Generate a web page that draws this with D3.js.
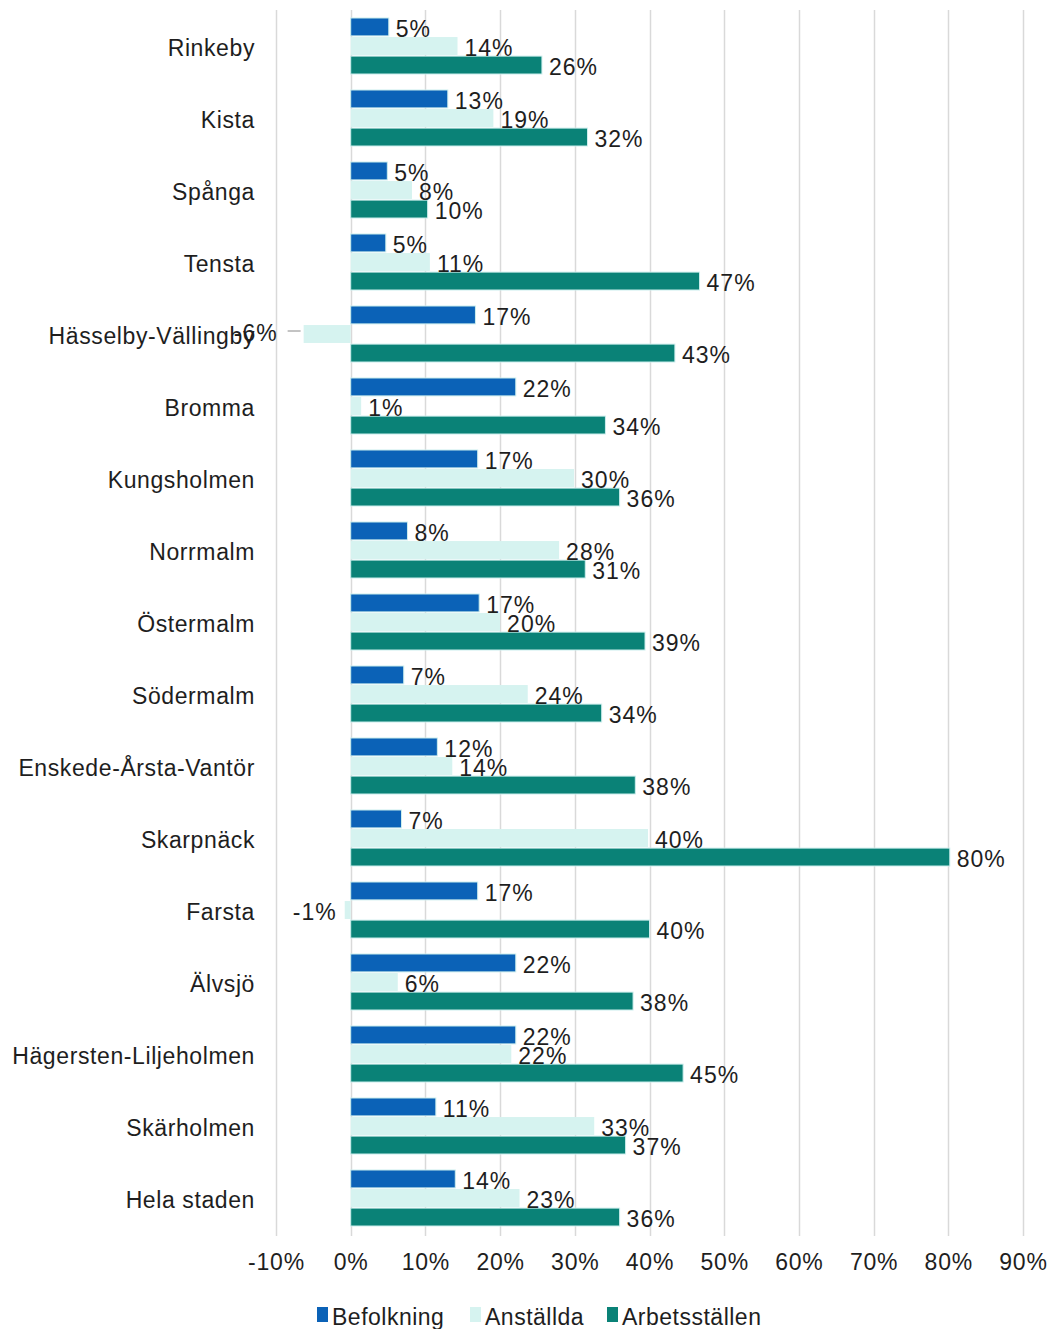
<!DOCTYPE html>
<html><head><meta charset="utf-8">
<script src="https://cdn.jsdelivr.net/npm/d3@7"></script>
<style>
html,body{margin:0;padding:0;background:#fff;}
svg{display:block;font-family:"Liberation Sans",Arial,sans-serif;}
</style></head>
<body><svg id="c" width="1050" height="1329"></svg>
<script>
const categories = ["Rinkeby","Kista","Spånga","Tensta","Hässelby-Vällingby","Bromma","Kungsholmen","Norrmalm","Östermalm","Södermalm","Enskede-Årsta-Vantör","Skarpnäck","Farsta","Älvsjö","Hägersten-Liljeholmen","Skärholmen","Hela staden"];
const seriesNames = ["Befolkning","Anställda","Arbetsställen"];
const befolkning = [5.1,13.0,4.9,4.7,16.7,22.1,17.0,7.6,17.2,7.1,11.6,6.8,17.0,22.1,22.1,11.4,14.0];
const anstallda = [14.3,19.1,8.2,10.6,-6.3,1.4,29.9,27.9,20.0,23.7,13.6,39.8,-0.8,6.3,21.5,32.6,22.6];
const arbetsstallen = [25.6,31.7,10.3,46.7,43.4,34.1,36.0,31.4,39.4,33.6,38.1,80.2,40.0,37.8,44.5,36.8,36.0];
const tickValues = [-10,0,10,20,30,40,50,60,70,80,90];
const colors = ["#0b62b7","#d6f3f0","#0a8277"];

const svg = d3.select("#c");
const x = d3.scaleLinear().domain([-10,90]).range([276,1023]);
const y = d3.scaleBand().domain(categories).range([10,1234]).paddingInner(0.222).paddingOuter(0.111);
const y1 = d3.scaleBand().domain(seriesNames).range([0,y.bandwidth()]).paddingInner(0.06);
const txt = "#1e1e1e";

// gridlines
svg.append("g").selectAll("line").data(tickValues).join("line")
  .attr("x1",d=>Math.round(x(d))+0.5).attr("x2",d=>Math.round(x(d))+0.5)
  .attr("y1",10).attr("y2",1236)
  .attr("stroke","#d9d9d9").attr("stroke-width",1.5);

// x axis labels
const xAxis = d3.axisBottom(x).tickValues(tickValues).tickSize(0).tickPadding(0).tickFormat(d=>d+"%");
const gx = svg.append("g").attr("transform","translate(0,1256)").call(xAxis);
gx.select(".domain").remove();
gx.selectAll("text").attr("font-size",23).attr("fill",txt).attr("letter-spacing","0.8px")
  .attr("font-family","Liberation Sans, Arial, sans-serif").attr("dy","0.62em");

// y axis labels
const yAxis = d3.axisLeft(y).tickSize(0).tickPadding(0);
const gy = svg.append("g").attr("transform","translate(255,3)").call(yAxis);
gy.select(".domain").remove();
gy.selectAll("text").attr("font-size",23).attr("fill",txt).attr("letter-spacing","0.6px")
  .attr("font-family","Liberation Sans, Arial, sans-serif");

const data = categories.map((c,i)=>({cat:c, vals:[befolkning[i],anstallda[i],arbetsstallen[i]]}));

const groups = svg.append("g").selectAll("g").data(data).join("g")
  .attr("transform",d=>`translate(0,${y(d.cat)})`);

groups.selectAll("rect").data(d=>d.vals.map((v,j)=>({v,s:seriesNames[j],j}))).join("rect")
  .attr("x",d=>x(Math.min(0,d.v)))
  .attr("width",d=>Math.abs(x(d.v)-x(0)))
  .attr("y",d=>y1(d.s))
  .attr("height",y1.bandwidth())
  .attr("fill",d=>colors[d.j])
  .attr("stroke",d=>d.j===1?"none":"#cdeeed")
  .attr("stroke-width",1);

// data labels
groups.each(function(d){
  const g = d3.select(this);
  d.vals.forEach((v,j)=>{
    const cy = y1(seriesNames[j]) + y1.bandwidth()/2 + 2;
    const lab = Math.round(v)+"%";
    if (v >= 0) {
      g.append("text").attr("x",x(v)+7).attr("y",cy).attr("dy","0.35em").attr("letter-spacing","1px")
        .attr("font-size",23).attr("fill",txt).text(lab);
    } else {
      const far = v < -3;
      const ex = far ? x(v) - 26 : x(v) - 8;
      g.append("text").attr("x",ex).attr("y",cy - (far?3:0)).attr("dy","0.35em").attr("letter-spacing","1px")
        .attr("text-anchor","end").attr("font-size",23).attr("fill",txt).text(lab);
      if (far) {
        g.append("line").attr("x1",x(v)-16).attr("x2",x(v)-3)
          .attr("y1",cy-5).attr("y2",cy-5).attr("stroke","#888").attr("stroke-width",1);
      }
    }
  });
});

// legend
const lx = [317,470,607];
const leg = svg.append("g");
seriesNames.forEach((s,j)=>{
  leg.append("rect").attr("x",lx[j]).attr("y",1307).attr("width",11).attr("height",15).attr("fill",colors[j]);
  leg.append("text").attr("x",lx[j]+15).attr("y",1325).attr("font-size",23).attr("letter-spacing","0.5px").attr("fill",txt).text(s);
});
</script></body></html>
